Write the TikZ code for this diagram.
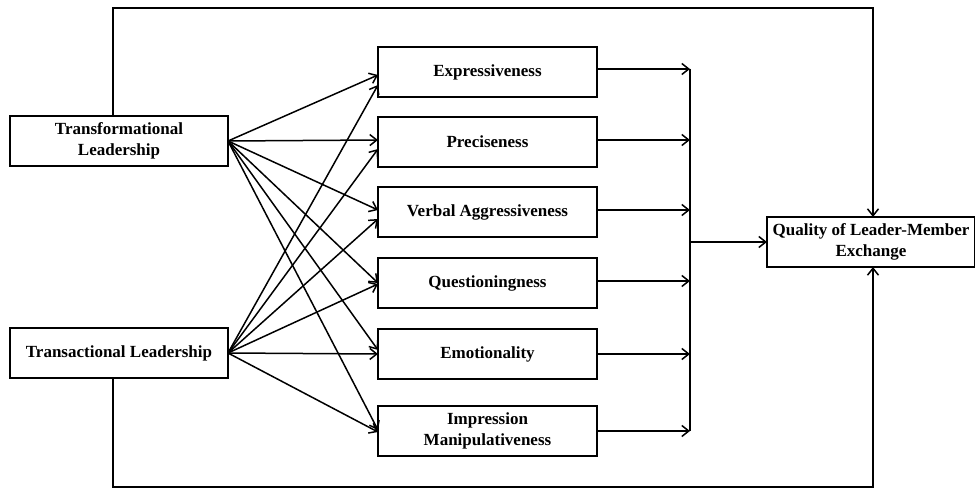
\documentclass[tikz,border=0pt]{standalone}
\usepackage{fontspec}
\setmainfont{Liberation Serif}
\usetikzlibrary{positioning, arrows.meta}

\begin{document}
\begin{tikzpicture}[
  x=1pt, y=-1pt,
  every node/.style={font=\bfseries\fontsize{17}{21}\selectfont},
  box/.style={
    rectangle, draw=black, line width=1.9pt,
    minimum width=#1, minimum height=50pt,
    align=center, inner xsep=2pt, outer sep=0pt
  },
  arrow/.style={-{Straight Barb[length=7pt, width=11pt]}, line width=1.5pt},
  wire/.style={line width=1.5pt}
]
\useasboundingbox (0,0) rectangle (975,489);

% ── Leadership styles ─────────────────────────────────────────────────────────
\node[box=218pt] (tf) at (119,141) {Transformational\\Leadership};
\node[box=218pt, below=162pt of tf] (ta) {Transactional Leadership};

% ── Communication styles ──────────────────────────────────────────────────────
\node[box=219pt] (ex) at (487.5,72) {Expressiveness};
\node[box=219pt, below=20pt of ex] (pr) {Preciseness};
\node[box=219pt, below=20pt of pr] (vb) {Verbal Aggressiveness};
\node[box=219pt, below=21pt of vb] (qu) {Questioningness};
\node[box=219pt, below=21pt of qu] (em) {Emotionality};
\node[box=219pt, below=27pt of em] (im) {Impression\\Manipulativeness};

% ── Outcome ───────────────────────────────────────────────────────────────────
\node[box=208pt] (lmx) at (871,242) {Quality of Leader-Member\\Exchange};

% bus line and outer loops
\coordinate (bus)   at (690,242);
\coordinate (loopT) at (113,8);
\coordinate (loopB) at (113,487);

% arrows from transformational leadership
\draw[arrow] (tf.east) -- ([yshift=-3pt]ex.west);
\draw[arrow] (tf.east) -- ([yshift=2pt]pr.west);
\draw[arrow] (tf.east) -- ([yshift=2pt]vb.west);
\draw[arrow] (tf.east) -- (qu.west);
\draw[arrow] (tf.east) -- ([yshift=4pt]em.west);
\draw[arrow] (tf.east) -- ([yshift=1pt]im.west);

% arrows from transactional leadership
\draw[arrow] (ta.east) -- ([yshift=-13pt]ex.west);
\draw[arrow] (ta.east) -- ([yshift=-7pt]pr.west);
\draw[arrow] (ta.east) -- ([yshift=-7pt]vb.west);
\draw[arrow] (ta.east) -- ([yshift=-1pt]qu.west);
\draw[arrow] (ta.east) -- (em.west);
\draw[arrow] (ta.east) -- ([yshift=-1pt]im.west);

% arrows into the bus
\draw[arrow] ([yshift=3pt]ex.east) -- ([yshift=3pt]ex.east -| bus);
\draw[arrow] ([yshift=2pt]pr.east) -- ([yshift=2pt]pr.east -| bus);
\draw[arrow] ([yshift=2pt]vb.east) -- ([yshift=2pt]vb.east -| bus);
\draw[arrow] ([yshift=2pt]qu.east) -- ([yshift=2pt]qu.east -| bus);
\draw[arrow] (em.east) -- (em.east -| bus);
\draw[arrow] (im.east) -- (im.east -| bus);
\draw[wire]  ([yshift=3pt]ex.east -| bus) -- (im.east -| bus);
\draw[arrow] (bus) -- (lmx.west);

% direct paths to LMX
\draw[arrow] (tf.north -| loopT) -- (loopT) -| ([xshift=2pt]lmx.north);
\draw[arrow] (ta.south -| loopB) -- (loopB) -| ([xshift=2pt]lmx.south);

\end{tikzpicture}
\end{document}
